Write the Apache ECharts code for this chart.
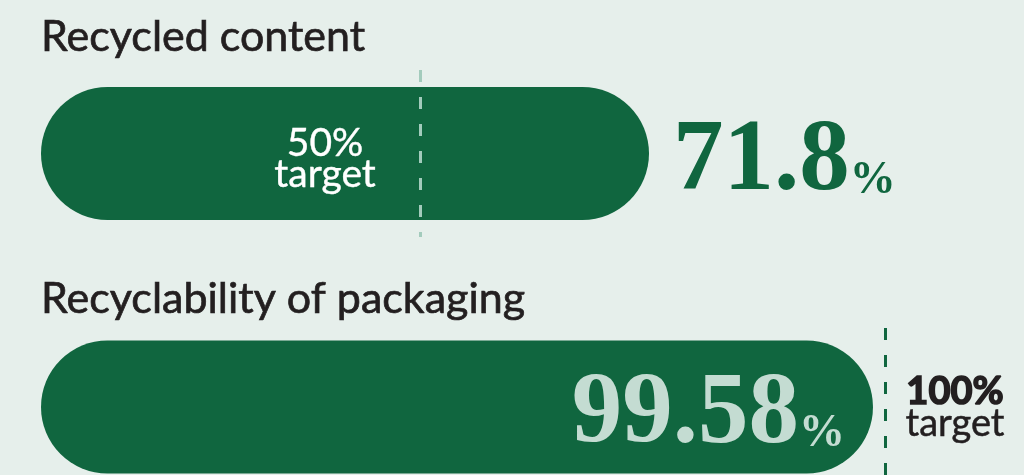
<!DOCTYPE html>
<html>
<head>
<meta charset="utf-8">
<script src="https://cdn.jsdelivr.net/npm/echarts@6/dist/echarts.min.js"></script>
<style>html,body{margin:0;padding:0;background:#e6efeb;}#c{width:1024px;height:475px;}</style>
</head>
<body>
<div id="c"></div>
<script>
const categories = ['Recycled content', 'Recyclability of packaging'];
const values = [71.8, 99.58];
const targets = [50, 100];
const targetNames = ['target', 'target'];

const GREEN = '#10663f';
const MINT = '#c4dcd2';
const DARK = '#231f20';
const BG = '#e6efeb';

const chart = echarts.init(document.getElementById('c'), null, {renderer: 'canvas'});

const grids = [
  {left: 41, top: 70, width: 608, height: 167, outerBoundsMode: 'none'},
  {left: 41, top: 328, width: 844, height: 158, outerBoundsMode: 'none'}
];
const axisRanges = [
  {min: 13.9, max: 71.8},
  {min: 70.5, max: 100}
];

function valueRich(color) {
  return {
    v: {fontFamily: 'Liberation Serif', fontWeight: 'bold', fontSize: 101, color: color, height: 101, lineHeight: 101, verticalAlign: 'bottom'},
    p: {fontFamily: 'Liberation Serif', fontWeight: 'bold', fontSize: 46, color: color, height: 64, verticalAlign: 'bottom'}
  };
}

const valueLabels = [
  {
    show: true, position: 'right', distance: 24, offset: [0, 9],
    formatter: p => '{v|' + p.value + '}{p|%}',
    rich: valueRich(GREEN)
  },
  {
    show: true, position: 'insideRight', distance: 28, offset: [0, 9],
    formatter: p => '{v|' + p.value + '}{p|%}',
    rich: valueRich(MINT)
  }
];

const targetLineStyles = [
  {color: '#a3cbbc', width: 3, type: [12, 15]},
  {color: GREEN, width: 3, type: [12, 15]}
];

const targetLabels = [
  {
    show: true, position: 'inside', offset: [-95, 5],
    formatter: () => '{b|' + targets[0] + '%}\n{t|' + targetNames[0] + '}',
    rich: {
      b: {fontFamily: 'Lato', fontSize: 39, color: '#ffffff', lineHeight: 31, align: 'center', textBorderColor: '#ffffff', textBorderWidth: 0.4},
      t: {fontFamily: 'Lato', fontSize: 39, color: '#ffffff', lineHeight: 31, align: 'center', textBorderColor: '#ffffff', textBorderWidth: 0.4}
    }
  },
  {
    show: true, position: 'inside', offset: [70, 1],
    formatter: () => '{b|' + targets[1] + '%}\n{t|' + targetNames[1] + '}',
    rich: {
      b: {fontFamily: 'Lato', fontWeight: 'bold', fontSize: 38, color: DARK, lineHeight: 32, align: 'center', textBorderColor: DARK, textBorderWidth: 1.6},
      t: {fontFamily: 'Lato', fontSize: 38, color: DARK, lineHeight: 32, align: 'center', textBorderColor: DARK, textBorderWidth: 0.5}
    }
  }
];

const option = {
  backgroundColor: BG,
  animation: false,
  title: categories.map((c, i) => ({
    text: c, left: 36, top: i === 0 ? 11 : 273,
    textStyle: {fontFamily: 'Lato', fontWeight: 'normal', fontSize: 43, color: DARK, textBorderColor: DARK, textBorderWidth: 0.7}
  })),
  grid: grids,
  xAxis: grids.map((g, i) => ({
    type: 'value', gridIndex: i, min: axisRanges[i].min, max: axisRanges[i].max,
    startValue: axisRanges[i].min, show: false
  })),
  yAxis: grids.map((g, i) => ({
    type: 'category', gridIndex: i, data: [categories[i]], show: false, inverse: true
  })),
  series: categories.map((c, i) => ({
    type: 'bar', xAxisIndex: i, yAxisIndex: i,
    data: [values[i]],
    barWidth: 133,
    clip: false,
    itemStyle: {color: GREEN, borderRadius: 66.5},
    label: valueLabels[i],
    z: 2,
    markLine: {
      silent: true, symbol: 'none', z: 3,
      lineStyle: targetLineStyles[i],
      label: {show: false},
      data: [{xAxis: targets[i]}]
    },
    markPoint: {
      silent: true, symbol: 'circle', symbolSize: 0, z: 4,
      label: targetLabels[i],
      data: [{coord: [targets[i], c]}]
    }
  }))
};
chart.setOption(option);
</script>
</body>
</html>
